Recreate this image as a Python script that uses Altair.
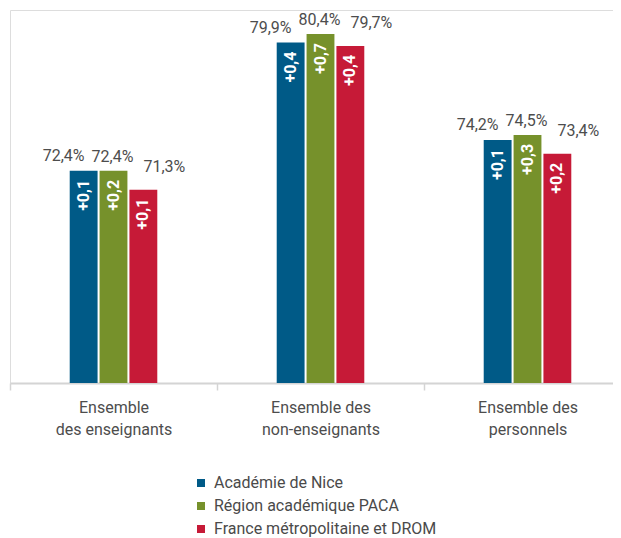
import altair as alt
import pandas as pd

groups = ["Ensemble|des enseignants", "Ensemble des|non-enseignants", "Ensemble des|personnels"]
series = ["Académie de Nice", "Région académique PACA", "France métropolitaine et DROM"]
colors = ["#005a87", "#76912b", "#c61a37"]

taux_nice = [72.4, 79.9, 74.2]
taux_paca = [72.4, 80.4, 74.5]
taux_france = [71.3, 79.7, 73.4]

evol_nice = [0.1, 0.4, 0.1]
evol_paca = [0.2, 0.7, 0.3]
evol_france = [0.1, 0.4, 0.2]

rows = []
for s, vals, evs in zip(series, [taux_nice, taux_paca, taux_france], [evol_nice, evol_paca, evol_france]):
    for g, v, e in zip(groups, vals, evs):
        rows.append({
            "group": g, "series": s, "value": v,
            "vlabel": f"{v:.1f}%".replace(".", ","),
            "elabel": f"+{e:.1f}".replace(".", ","),
        })
df = pd.DataFrame(rows)

FONT = "Roboto"

x_enc = alt.X("group:N", sort=groups, title=None,
              scale=alt.Scale(paddingInner=0, paddingOuter=0, range=[0, 621]),
              axis=alt.Axis(labelExpr="split(datum.label, '|')", labelAngle=0,
                            labelFont=FONT, labelFontSize=16, labelColor="#4d4d4d",
                            labelLineHeight=22, labelPadding=9, labelBaseline="top",
                            tickBand="extent", tickSize=7, tickColor="#d4d4d4", tickWidth=1.5,
                            domainColor="#d4d4d4", domainWidth=2, grid=False))
offset_domain = ["_l1", "_l2"] + series + ["_r1", "_r2"]
xo_enc = alt.XOffset("series:N",
                     scale=alt.Scale(domain=offset_domain, paddingInner=0.067, paddingOuter=0))
y_enc = alt.Y("value:Q", scale=alt.Scale(domain=[60, 81.8], nice=False, zero=False),
              axis=None)

base = alt.Chart(df).encode(x=x_enc, xOffset=xo_enc, y=y_enc)

bars = base.mark_bar().encode(
    y2=alt.datum(60),
    color=alt.Color("series:N", sort=series,
                    scale=alt.Scale(domain=series, range=colors),
                    legend=alt.Legend(title=None, orient="none", legendX=183, legendY=465,
                                      symbolType="square", symbolSize=64, symbolStrokeWidth=0,
                                      labelFont=FONT, labelFontSize=16, labelColor="#4a4a4a",
                                      rowPadding=7, labelOffset=5, padding=0, labelLimit=0,
                                      direction="vertical"))
)

offsets = {series[0]: (-20, -10), series[1]: (-1, -9), series[2]: (21, -18)}
value_layers = []
for s in series:
    dx, dy = offsets[s]
    value_layers.append(
        base.transform_filter(alt.datum.series == s).mark_text(
            dx=dx, dy=dy, baseline="alphabetic", align="center",
            font=FONT, fontSize=16, color="#4d4d4d"
        ).encode(text="vlabel:N")
    )

inner = base.mark_text(angle=270, align="right", baseline="middle", dx=-9,
                       font=FONT, fontSize=16, fontWeight="bold", color="white"
                       ).encode(text="elabel:N")

chart = alt.layer(bars, *value_layers, inner).properties(
    width=603, height=373,
    padding={"left": 2, "top": 2, "right": 0, "bottom": 155},
    autosize=alt.AutoSizeParams(type="none"),
).configure_view(strokeWidth=0, stroke="transparent").configure(font=FONT)

chart.save("out.html", embed_options={"renderer": "svg", "actions": False})
